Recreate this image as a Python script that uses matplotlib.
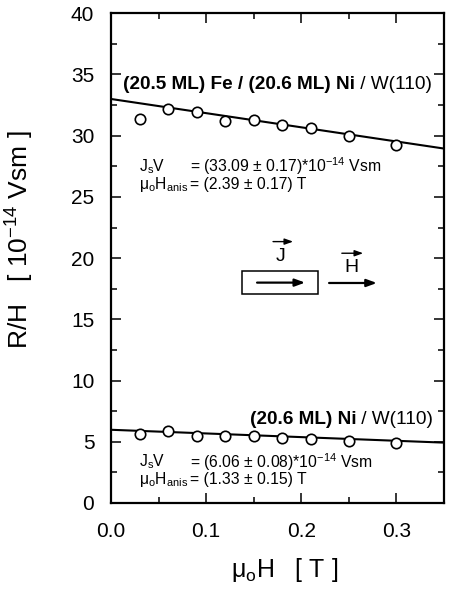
import matplotlib
matplotlib.use("Agg")
import matplotlib.pyplot as plt
from matplotlib.patches import Rectangle
from matplotlib.ticker import MultipleLocator

plt.rcParams['font.family'] = ['Liberation Sans', 'DejaVu Sans']
plt.rcParams['mathtext.fontset'] = 'custom'
plt.rcParams['mathtext.rm'] = 'Liberation Sans'
plt.rcParams['mathtext.it'] = 'Liberation Sans'
plt.rcParams['mathtext.bf'] = 'Liberation Sans:bold'

# Data
field = [0.03, 0.06, 0.09, 0.12, 0.15, 0.18, 0.21, 0.25, 0.30]
feni_rh = [31.4, 32.2, 31.9, 31.2, 31.3, 30.9, 30.6, 30.0, 29.25]
ni_rh = [5.6, 5.85, 5.5, 5.45, 5.45, 5.3, 5.2, 5.1, 4.9]
fit_x = [0.0, 0.35]
feni_fit = [33.0, 28.95]
ni_fit = [5.98, 4.93]

fig = plt.figure(figsize=(4.5, 5.93), dpi=100)
ax = fig.add_axes([0.2467, 0.1518, 0.74, 0.8258])

ax.plot(fit_x, feni_fit, color='black', lw=1.5, zorder=2)
ax.plot(fit_x, ni_fit, color='black', lw=1.5, zorder=2)
ax.plot(field, feni_rh, 'o', ms=7.5, mfc='white', mec='black', mew=1.2, zorder=3)
ax.plot(field, ni_rh, 'o', ms=7.5, mfc='white', mec='black', mew=1.2, zorder=3)

ax.set_xlim(0, 0.35)
ax.set_ylim(0, 40)
ax.xaxis.set_major_locator(MultipleLocator(0.1))
ax.xaxis.set_minor_locator(MultipleLocator(0.05))
ax.yaxis.set_major_locator(MultipleLocator(5))
ax.yaxis.set_minor_locator(MultipleLocator(2.5))
ax.set_xticks([0.0, 0.1, 0.2, 0.3])
ax.set_xticklabels(['0.0', '0.1', '0.2', '0.3'])
ax.tick_params(which='both', direction='in', top=True, right=True, width=1.1)
ax.tick_params(which='major', length=7)
ax.tick_params(which='minor', length=4)
ax.tick_params(axis='x', which='major', labelsize=15, pad=14)
ax.tick_params(axis='y', which='major', labelsize=15, pad=12)
for s in ax.spines.values():
    s.set_linewidth(1.6)

ax.set_xlabel(r'$\mathrm{\mu_oH}$   [ T ]', fontsize=18)
ax.set_ylabel(r'R/H   [ 10$^{-14}$ Vsm ]', fontsize=19)
ax.xaxis.set_label_coords(0.52, -0.108)
ax.yaxis.set_label_coords(-0.225, 0.537)

eq_x = 0.0825
# Upper annotations
t1 = ax.text(0.0126, 34.15, '(20.5 ML) Fe / (20.6 ML) Ni', fontsize=13.7,
             fontweight='bold', ha='left', va='center')
ax.annotate(' / W(110)', xy=(1, 0.5), xycoords=t1, fontsize=13.7,
            ha='left', va='center')
ax.text(0.0294, 27.48, r'$\mathrm{J_sV}$', fontsize=11.3, ha='left', va='center')
ax.text(eq_x, 27.48, r'= (33.09 ± 0.17)*10$^{-14}$ Vsm', fontsize=11.3,
        ha='left', va='center')
ax.text(0.0294, 26.0, r'$\mathrm{μ_oH_{anis}}$', fontsize=11.3, ha='left', va='center')
ax.text(eq_x, 26.0, r'= (2.39 ± 0.17) T', fontsize=11.3, ha='left', va='center')

# Lower annotations
t2 = ax.text(0.3386, 6.78, ' / W(110)', fontsize=13.7, ha='right', va='center')
ax.annotate('(20.6 ML) Ni', xy=(0, 0.5), xycoords=t2, fontsize=13.7,
            fontweight='bold', ha='right', va='center')
ax.text(0.0294, 3.37, r'$\mathrm{J_sV}$', fontsize=11.3, ha='left', va='center')
ax.text(eq_x, 3.37, r'= (6.06 ± 0.08)*10$^{-14}$ Vsm', fontsize=11.3,
        ha='left', va='center')
ax.text(0.0294, 1.88, r'$\mathrm{μ_oH_{anis}}$', fontsize=11.3, ha='left', va='center')
ax.text(eq_x, 1.88, r'= (1.33 ± 0.15) T', fontsize=11.3, ha='left', va='center')

# Geometry sketch: sample box with current and field arrows
ax.add_patch(Rectangle((0.1381, 17.07), 0.2174 - 0.1381, 18.98 - 17.07,
                       fill=False, lw=1.1, ec='black'))
arrow_kw = dict(arrowstyle='-|>,head_length=0.6,head_width=0.22', lw=1.6, color='black',
                shrinkA=0, shrinkB=0)
ax.annotate('', xy=(0.2040, 18.0), xytext=(0.1535, 18.0), arrowprops=arrow_kw)
ax.annotate('', xy=(0.2794, 17.97), xytext=(0.2292, 17.97), arrowprops=arrow_kw)
small_kw = dict(arrowstyle='-|>,head_length=0.5,head_width=0.18', lw=1.0, color='black',
                shrinkA=0, shrinkB=0)
ax.text(0.1777, 20.1, 'J', fontsize=14, ha='center', va='center')
ax.annotate('', xy=(0.1914, 21.35), xytext=(0.1703, 21.35), arrowprops=small_kw)
ax.text(0.2531, 19.2, 'H', fontsize=14, ha='center', va='center')
ax.annotate('', xy=(0.2650, 20.4), xytext=(0.2426, 20.4), arrowprops=small_kw)

fig.savefig('out.png', dpi=100)
